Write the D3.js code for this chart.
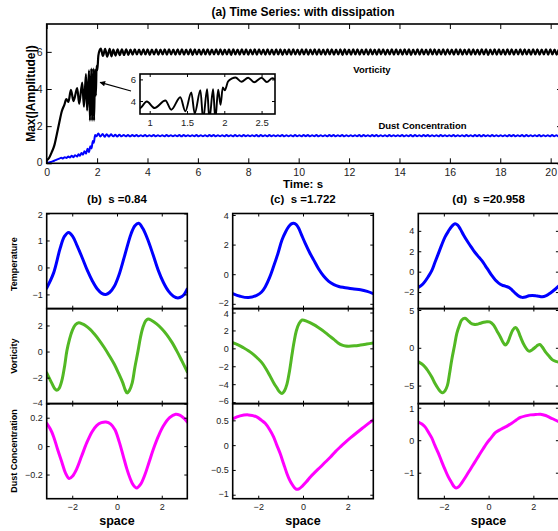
<!DOCTYPE html>
<html>
<head>
<meta charset="utf-8">
<script src="https://cdn.jsdelivr.net/npm/d3@7"></script>
<style>
  html, body { margin: 0; padding: 0; background: #fff; }
  svg { display: block; font-family: "Liberation Sans", Arial, Helvetica, sans-serif; }
  .tick text { fill: #222; }
</style>
</head>
<body>
<svg id="fig" width="558" height="531"></svg>
<script>
// ---------- time series (panel a) ----------
// vorticity max amplitude: growth phase as [time, value] extrema
const vortHead = [
  [0, 0.15], [0.1, 0.3], [0.2, 0.6], [0.3, 0.95], [0.4, 1.55], [0.5, 2.2],
  [0.6, 2.8], [0.7, 3.15], [0.78, 3.45], [0.86, 3.3], [0.962, 3.95],
  [1.065, 3.35], [1.21, 4.05], [1.29, 3.2], [1.41, 4.35], [1.478, 3.05],
  [1.558, 4.8], [1.603, 2.85], [1.68, 5.0], [1.716, 2.3], [1.77, 5.1],
  [1.80, 2.3], [1.85, 5.1], [1.88, 2.3], [1.918, 5.05], [1.95, 3.65],
  [1.98, 5.25], [2.007, 5.0], [2.05, 5.8], [2.106, 6.1], [2.15, 6.18],
  [2.23, 5.78], [2.32, 6.16], [2.40, 5.74], [2.50, 6.16], [2.57, 5.76],
  [2.645, 6.12]
];
// saturated phase: alternating extrema sampled every tailStep from tail start
const tailStep = 0.085;
const vortTailStart = 2.73;
const vortTail = [
  5.80,6.14,5.82,6.13,5.83,6.14,5.84,6.12,5.85,6.13,
  5.86,6.12,5.85,6.14,5.86,6.13,5.84,6.12,5.86,6.13,
  5.85,6.12,5.86,6.14,5.85,6.13,5.87,6.12,5.85,6.14,
  5.86,6.13,5.85,6.12,5.86,6.14,5.84,6.13,5.86,6.12,
  5.85,6.14,5.86,6.13,5.85,6.12,5.87,6.13,5.86,6.14,
  5.85,6.12,5.86,6.13,5.84,6.14,5.86,6.12,5.85,6.13,
  5.86,6.14,5.85,6.12,5.86,6.13,5.85,6.14,5.87,6.12,
  5.85,6.13,5.86,6.12,5.85,6.14,5.86,6.13,5.84,6.12,
  5.86,6.14,5.85,6.13,5.86,6.12,5.85,6.14,5.86,6.13,
  5.85,6.12,5.87,6.13,5.85,6.14,5.86,6.12,5.85,6.13,
  5.86,6.14,5.85,6.12,5.86,6.13,5.84,6.14,5.86,6.12,
  5.85,6.13,5.86,6.14,5.85,6.12,5.86,6.13,5.85,6.14,
  5.86,6.12,5.85,6.13,5.87,6.14,5.85,6.12,5.86,6.13,
  5.85,6.14,5.86,6.12,5.85,6.13,5.86,6.14,5.84,6.12,
  5.86,6.13,5.85,6.14,5.86,6.12,5.85,6.13,5.86,6.14,
  5.85,6.12,5.86,6.13,5.85,6.14,5.87,6.12,5.85,6.13,
  5.86,6.14,5.85,6.12,5.86,6.13,5.85,6.14,5.86,6.12,
  5.85,6.13,5.86,6.14,5.84,6.12,5.86,6.13,5.85,6.14,
  5.86,6.12,5.85,6.13,5.86,6.14,5.85,6.12,5.87,6.13,
  5.85,6.14,5.86,6.12,5.85,6.13,5.86,6.14,5.85,6.12,
  5.86,6.13,5.85,6.14,5.86,6.12,5.85,6.13,5.86,6.14
];
// dust concentration max amplitude
const dustHead = [
  [0, 0.0], [0.1, 0.04], [0.2, 0.09], [0.3, 0.14], [0.4, 0.2], [0.5, 0.25],
  [0.58, 0.3], [0.64, 0.26], [0.72, 0.33], [0.78, 0.29], [0.86, 0.36],
  [0.92, 0.31], [0.99, 0.4], [1.065, 0.33], [1.12, 0.44], [1.21, 0.36],
  [1.26, 0.49], [1.32, 0.4], [1.38, 0.56], [1.44, 0.46], [1.5, 0.65],
  [1.56, 0.52], [1.62, 0.78], [1.68, 0.6], [1.73, 0.92], [1.78, 0.8],
  [1.83, 1.2], [1.87, 1.1], [1.92, 1.52], [1.97, 1.45], [2.05, 1.6],
  [2.13, 1.44], [2.22, 1.58], [2.3, 1.43], [2.38, 1.57], [2.47, 1.44],
  [2.55, 1.56], [2.64, 1.45], [2.72, 1.54]
];
const dustTailStart = 2.80;
const dustTail = [
  1.44,1.54,1.45,1.53,1.45,1.52,1.45,1.52,1.46,1.52,
  1.45,1.51,1.46,1.52,1.45,1.51,1.46,1.52,1.45,1.51,
  1.46,1.51,1.45,1.52,1.46,1.51,1.45,1.51,1.46,1.52,
  1.45,1.52,1.46,1.51,1.45,1.51,1.46,1.52,1.45,1.51,
  1.46,1.51,1.45,1.52,1.46,1.52,1.45,1.51,1.46,1.51,
  1.45,1.52,1.46,1.51,1.45,1.52,1.46,1.51,1.45,1.52,
  1.46,1.51,1.45,1.51,1.46,1.52,1.45,1.52,1.46,1.51,
  1.45,1.52,1.46,1.51,1.45,1.51,1.46,1.52,1.45,1.51,
  1.46,1.51,1.45,1.52,1.46,1.51,1.45,1.52,1.46,1.52,
  1.45,1.51,1.46,1.52,1.45,1.51,1.46,1.51,1.45,1.52,
  1.46,1.52,1.45,1.51,1.46,1.52,1.45,1.51,1.46,1.51,
  1.45,1.51,1.46,1.52,1.45,1.52,1.46,1.51,1.45,1.52,
  1.46,1.52,1.45,1.51,1.46,1.51,1.45,1.52,1.46,1.51,
  1.45,1.51,1.46,1.52,1.45,1.51,1.46,1.52,1.45,1.52,
  1.46,1.51,1.45,1.52,1.46,1.52,1.45,1.51,1.46,1.51,
  1.45,1.52,1.46,1.51,1.45,1.51,1.46,1.52,1.45,1.51,
  1.46,1.51,1.45,1.52,1.46,1.51,1.45,1.52,1.46,1.52,
  1.45,1.52,1.46,1.51,1.45,1.52,1.46,1.51,1.45,1.51,
  1.46,1.51,1.45,1.52,1.46,1.52,1.45,1.51,1.46,1.52,
  1.45,1.52,1.46,1.51,1.45,1.51,1.46,1.52,1.45,1.51,
  1.46,1.51,1.45,1.52,1.46,1.51,1.45,1.52,1.46,1.51
];
const timeTicks = [0, 2, 4, 6, 8, 10, 12, 14, 16, 18, 20];
const ampTicks = [0, 2, 4, 6];
const insetTimeTicks = [1, 1.5, 2, 2.5];
const insetAmpTicks = [4, 6];

// ---------- spatial profiles (panels b, c, d) ----------
const tempB = [[-3.14,-0.76],[-2.84,-0.22],[-2.54,0.71],[-2.35,1.15],[-2.16,1.30],[-1.98,1.15],[-1.78,0.8],[-1.55,0.35],[-1.33,-0.1],[-1.1,-0.5],[-0.88,-0.8],[-0.68,-0.96],[-0.5,-1.0],[-0.32,-0.92],[-0.12,-0.7],[0.1,-0.25],[0.33,0.4],[0.63,1.25],[0.8,1.55],[0.97,1.64],[1.15,1.45],[1.39,1.0],[1.62,0.45],[1.84,-0.1],[2.07,-0.55],[2.3,-0.88],[2.52,-1.07],[2.72,-1.13],[2.9,-1.08],[3.02,-0.98],[3.14,-0.8]];
const vortB = [[-3.14,-1.63],[-2.92,-2.4],[-2.78,-2.85],[-2.69,-2.97],[-2.58,-2.8],[-2.46,-2.2],[-2.34,-1.1],[-2.24,0.05],[-2.12,0.95],[-2.0,1.6],[-1.86,2.05],[-1.71,2.2],[-1.55,2.12],[-1.4,1.98],[-1.2,1.7],[-1.03,1.38],[-0.8,0.88],[-0.57,0.31],[-0.35,-0.3],[-0.12,-0.98],[0.08,-1.7],[0.26,-2.4],[0.37,-2.95],[0.45,-3.17],[0.55,-3.0],[0.68,-2.4],[0.8,-1.2],[0.94,0.05],[1.05,1.1],[1.16,1.86],[1.28,2.35],[1.39,2.5],[1.55,2.38],[1.77,2.12],[2.0,1.75],[2.22,1.3],[2.45,0.72],[2.67,0.05],[2.9,-0.72],[3.14,-1.55]];
const dustB = [[-3.14,0.16],[-2.98,0.12],[-2.84,0.07],[-2.66,-0.02],[-2.47,-0.11],[-2.3,-0.19],[-2.14,-0.228],[-1.98,-0.21],[-1.8,-0.16],[-1.58,-0.07],[-1.35,0.024],[-1.12,0.1],[-0.91,0.145],[-0.7,0.165],[-0.49,0.17],[-0.28,0.155],[-0.09,0.115],[0.1,0.03],[0.28,-0.07],[0.44,-0.16],[0.58,-0.224],[0.73,-0.275],[0.88,-0.295],[1.05,-0.27],[1.25,-0.2],[1.44,-0.11],[1.62,-0.024],[1.85,0.07],[2.07,0.141],[2.35,0.2],[2.62,0.224],[2.8,0.218],[2.96,0.2],[3.14,0.17]];

const tempC = [[-3.14,-1.31],[-2.81,-1.49],[-2.44,-1.58],[-2.07,-1.43],[-1.85,-1.2],[-1.69,-0.86],[-1.5,-0.25],[-1.32,0.5],[-1.12,1.4],[-0.94,2.31],[-0.78,2.85],[-0.64,3.21],[-0.52,3.4],[-0.42,3.44],[-0.3,3.35],[-0.19,3.1],[-0.05,2.6],[0.1,2.08],[0.3,1.45],[0.48,0.95],[0.7,0.35],[0.93,-0.14],[1.15,-0.48],[1.38,-0.7],[1.6,-0.83],[1.83,-0.9],[2.05,-0.95],[2.28,-1.0],[2.57,-1.05],[2.87,-1.16],[3.14,-1.31]];
const vortC = [[-3.14,0.63],[-2.9,0.4],[-2.66,0.07],[-2.44,-0.27],[-2.22,-0.67],[-2.03,-1.1],[-1.84,-1.6],[-1.65,-2.3],[-1.47,-3.1],[-1.3,-3.9],[-1.17,-4.4],[-1.05,-4.85],[-0.94,-5.04],[-0.83,-4.75],[-0.72,-4.03],[-0.6,-2.5],[-0.49,-0.67],[-0.4,0.7],[-0.3,1.94],[-0.17,2.8],[-0.04,3.17],[0.18,3.02],[0.48,2.65],[0.7,2.3],[0.93,1.9],[1.15,1.45],[1.38,1.0],[1.57,0.6],[1.75,0.35],[1.9,0.26],[2.05,0.24],[2.3,0.28],[2.57,0.37],[2.85,0.48],[3.14,0.6]];
const dustC = [[-3.14,0.53],[-2.81,0.59],[-2.44,0.61],[-2.07,0.57],[-1.85,0.5],[-1.69,0.44],[-1.5,0.32],[-1.32,0.17],[-1.17,0.0],[-1.02,-0.17],[-0.87,-0.37],[-0.72,-0.57],[-0.6,-0.7],[-0.49,-0.79],[-0.38,-0.86],[-0.3,-0.89],[-0.18,-0.88],[-0.04,-0.83],[0.15,-0.74],[0.33,-0.64],[0.55,-0.54],[0.78,-0.44],[1.0,-0.34],[1.23,-0.24],[1.45,-0.13],[1.68,-0.03],[1.9,0.06],[2.13,0.15],[2.4,0.25],[2.65,0.34],[2.9,0.43],[3.14,0.51]];

const tempD = [[-3.14,-1.54],[-2.98,-1.3],[-2.84,-0.95],[-2.7,-0.5],[-2.54,0.1],[-2.4,0.9],[-2.25,1.74],[-2.1,2.6],[-1.95,3.38],[-1.8,3.95],[-1.65,4.43],[-1.5,4.69],[-1.38,4.55],[-1.27,4.2],[-1.12,3.6],[-0.97,3.05],[-0.82,2.55],[-0.67,2.07],[-0.5,1.6],[-0.3,1.08],[-0.15,0.6],[0,0.1],[0.15,-0.4],[0.3,-0.82],[0.45,-1.12],[0.6,-1.31],[0.75,-1.42],[0.9,-1.54],[1.05,-1.8],[1.2,-2.13],[1.35,-2.4],[1.5,-2.52],[1.65,-2.48],[1.8,-2.36],[1.95,-2.33],[2.1,-2.36],[2.25,-2.42],[2.4,-2.46],[2.55,-2.38],[2.69,-2.2],[2.85,-1.95],[2.99,-1.7],[3.14,-1.4]];
const vortD = [[-3.14,-1.87],[-2.98,-2.15],[-2.84,-2.53],[-2.7,-3.1],[-2.54,-3.87],[-2.4,-4.7],[-2.25,-5.42],[-2.15,-5.8],[-2.05,-5.96],[-1.95,-5.7],[-1.84,-4.98],[-1.75,-3.5],[-1.65,-1.64],[-1.53,0.2],[-1.42,1.91],[-1.3,3.0],[-1.2,3.69],[-1.05,3.91],[-0.92,3.6],[-0.82,3.33],[-0.67,3.12],[-0.52,3.11],[-0.37,3.25],[-0.22,3.38],[-0.08,3.45],[0.05,3.42],[0.22,3.02],[0.38,2.2],[0.52,1.47],[0.65,0.7],[0.75,0.36],[0.86,0.75],[0.97,1.6],[1.08,2.35],[1.2,2.67],[1.31,2.3],[1.42,1.47],[1.6,0.3],[1.8,-0.44],[1.95,-0.25],[2.1,0.1],[2.2,0.35],[2.29,0.44],[2.4,0.1],[2.54,-0.53],[2.7,-1.1],[2.84,-1.56],[3.0,-1.8],[3.14,-1.9]];
const dustD = [[-3.14,0.56],[-2.98,0.5],[-2.84,0.41],[-2.7,0.26],[-2.54,0.07],[-2.4,-0.16],[-2.25,-0.39],[-2.1,-0.65],[-1.95,-0.9],[-1.8,-1.13],[-1.65,-1.31],[-1.55,-1.42],[-1.45,-1.47],[-1.33,-1.43],[-1.2,-1.31],[-1.0,-1.1],[-0.82,-0.9],[-0.63,-0.69],[-0.45,-0.49],[-0.25,-0.27],[-0.07,-0.08],[0.12,0.08],[0.3,0.23],[0.48,0.31],[0.67,0.38],[0.86,0.45],[1.05,0.53],[1.25,0.63],[1.42,0.7],[1.65,0.75],[1.87,0.78],[2.1,0.79],[2.32,0.8],[2.55,0.76],[2.77,0.69],[2.95,0.63],[3.14,0.57]];

const spaceTicks = [-2, 0, 2];
const panelTitles = ["(b)  s =0.84", "(c)  s =1.722", "(d)  s =20.958"];
const rowNames = ["Temperature", "Vorticity", "Dust Concentration"];
const rowColors = ["#0000ff", "#52b824", "#ff00ff"];
const panelCurves = [[tempB, vortB, dustB], [tempC, vortC, dustC], [tempD, vortD, dustD]];
const panelYDomains = [
  [[-1.53, 2.0], [-4.0, 3.3], [-0.37, 0.3]],
  [[-2.33, 4.1], [-6.18, 4.45], [-1.08, 0.84]],
  [[-3.63, 5.7], [-7.4, 5.2], [-1.8, 1.13]]
];
const panelYTicks = [
  [[-1, 0, 1, 2], [-4, -2, 0, 2], [-0.2, 0, 0.2]],
  [[-2, 0, 2, 4], [-6, -4, -2, 0, 2, 4], [-1, -0.5, 0, 0.5]],
  [[-2, 0, 2, 4], [-5, 0, 5], [-1, 0, 1]]
];

// ---------- drawing ----------
const svg = d3.select("#fig");
const fmt = d3.format("~g");
let clipId = 0;

function clipRect(x, y, w, h) {
  const id = "clip" + (clipId++);
  svg.append("clipPath").attr("id", id).append("rect")
    .attr("x", x).attr("y", y).attr("width", w).attr("height", h);
  return "url(#" + id + ")";
}

// Box with inward ticks on all four sides; labels only on left and bottom.
// Tick labels that sit right on the top/bottom edge are pulled slightly inside
// so that labels of stacked panels do not collide.
function boxAxes(x, y, tickLen, fontSize, xTicks, yTicks, showX) {
  const [l, r] = x.range();
  const [b, t] = y.range();
  const g = svg.append("g");
  const style = sel => {
    sel.select(".domain").remove();
    sel.selectAll(".tick line").attr("stroke", "#000").attr("stroke-width", 1);
    sel.selectAll(".tick text").attr("font-size", fontSize);
  };
  const left = g.append("g").attr("transform", `translate(${l},0)`)
    .call(d3.axisLeft(y).tickValues(yTicks).tickSize(-tickLen).tickPadding(4).tickFormat(fmt)).call(style);
  left.selectAll(".tick text").attr("y", d => {
    const py = y(d);
    if (py - t < 5) return 1;
    if (b - py < 5) return -1;
    return 0;
  });
  g.append("g").attr("transform", `translate(${r},0)`)
    .call(d3.axisRight(y).tickValues(yTicks).tickSize(-tickLen).tickFormat("")).call(style);
  g.append("g").attr("transform", `translate(0,${b})`)
    .call(d3.axisBottom(x).tickValues(xTicks).tickSize(-tickLen).tickPadding(5)
      .tickFormat(showX ? fmt : "")).call(style);
  g.append("g").attr("transform", `translate(0,${t})`)
    .call(d3.axisTop(x).tickValues(xTicks).tickSize(-tickLen).tickFormat("")).call(style);
  g.selectAll("text").attr("font-family", "'Liberation Sans', Arial, sans-serif");
  g.append("rect").attr("x", l).attr("y", t).attr("width", r - l).attr("height", b - t)
    .attr("fill", "none").attr("stroke", "#000").attr("stroke-width", 1.6);
  return g;
}

function label(text, x, y, size, opts = {}) {
  const el = svg.append("text")
    .attr("x", x).attr("y", y)
    .attr("font-size", size).attr("font-weight", "bold")
    .attr("text-anchor", "middle").attr("fill", "#000")
    .style("white-space", "pre")
    .text(text);
  if (opts.rotate) el.attr("transform", `rotate(-90,${x},${y})`);
  return el;
}

// panel (a): time series
const xT = d3.scaleLinear().domain([0, 20.45]).range([46.7, 562]);
const yT = d3.scaleLinear().domain([0, 7.5]).range([163.3, 24]);

const vortSeries = vortHead.concat(vortTail.map((v, i) => [vortTailStart + i * tailStep, v]));
const dustSeries = dustHead.concat(dustTail.map((v, i) => [dustTailStart + i * tailStep, v]));

const mainClip = clipRect(46.7, 24, 562 - 46.7, 163.3 - 24);
const lineT = d3.line().x(d => xT(d[0])).y(d => yT(d[1])).curve(d3.curveMonotoneX);
svg.append("path").attr("clip-path", mainClip).datum(dustSeries).attr("d", lineT)
  .attr("fill", "none").attr("stroke", "#0000ff").attr("stroke-width", 2);
svg.append("path").attr("clip-path", mainClip).datum(vortSeries).attr("d", lineT)
  .attr("fill", "none").attr("stroke", "#000").attr("stroke-width", 2.2);
boxAxes(xT, yT, 5, 10.5, timeTicks, ampTicks, true);

label("(a) Time Series: with dissipation", 303, 16, 12);
label("Time: s", 303, 188, 11.5);
label("Max(|Amplitude|)", 35, 93.5, 12, { rotate: true });
label("Vorticity", 372, 72.7, 9.5);
label("Dust Concentration", 422.5, 129.3, 9.5);

// inset: zoom on the transition
const xI = d3.scaleLinear().domain([0.87, 2.68]).range([140, 275]);
const yI = d3.scaleLinear().domain([2.8, 6.5]).range([114, 74]);
svg.append("rect").attr("x", 140).attr("y", 74).attr("width", 135).attr("height", 40).attr("fill", "#fff");
const insetClip = clipRect(140, 74, 135, 40);
const lineI = d3.line().x(d => xI(d[0])).y(d => yI(d[1])).curve(d3.curveMonotoneX);
svg.append("path").attr("clip-path", insetClip).datum(vortSeries).attr("d", lineI)
  .attr("fill", "none").attr("stroke", "#000").attr("stroke-width", 1.9);
boxAxes(xI, yI, 3, 9.5, insetTimeTicks, insetAmpTicks, true);

// arrow pointing from the inset to the transition region
svg.append("defs").append("marker").attr("id", "arrowHead")
  .attr("viewBox", "0 0 10 10").attr("refX", 9).attr("refY", 5)
  .attr("markerWidth", 7).attr("markerHeight", 5.5).attr("markerUnits", "userSpaceOnUse")
  .attr("orient", "auto")
  .append("path").attr("d", "M0,0 L10,5 L0,10 z").attr("fill", "#000");
svg.append("line").attr("x1", 131).attr("y1", 91).attr("x2", xT(2.12)).attr("y2", 82.4)
  .attr("stroke", "#000").attr("stroke-width", 1.1).attr("marker-end", "url(#arrowHead)");

// panels (b)-(d): spatial profiles
const colLeft = [46.7, 232.7, 418.3];
const colWidth = 140.6;
const rowTop = [213.5, 308.5, 403.5];
const rowHeight = 95.2;

colLeft.forEach((left, c) => {
  const xS = d3.scaleLinear().domain([-Math.PI, Math.PI]).range([left, left + colWidth]);
  rowTop.forEach((top, r) => {
    const yS = d3.scaleLinear().domain(panelYDomains[c][r]).range([top + rowHeight, top]);
    const clip = clipRect(left, top, colWidth, rowHeight);
    const line = d3.line().x(d => xS(d[0])).y(d => yS(d[1])).curve(d3.curveCatmullRom.alpha(0.5));
    svg.append("path").attr("clip-path", clip).datum(panelCurves[c][r]).attr("d", line)
      .attr("fill", "none").attr("stroke", rowColors[r]).attr("stroke-width", 3)
      .attr("stroke-linecap", "round");
    boxAxes(xS, yS, 3, 9, spaceTicks, panelYTicks[c][r], r === 2);
  });
  label(panelTitles[c], left + colWidth / 2, 203, 11.5);
  label("space", left + colWidth / 2, 525, 12.5);
});

rowNames.forEach((name, r) => {
  label(name, 17, rowTop[r] + rowHeight / 2 + (r === 0 ? 3 : 0), 9, { rotate: true });
});
</script>
</body>
</html>
